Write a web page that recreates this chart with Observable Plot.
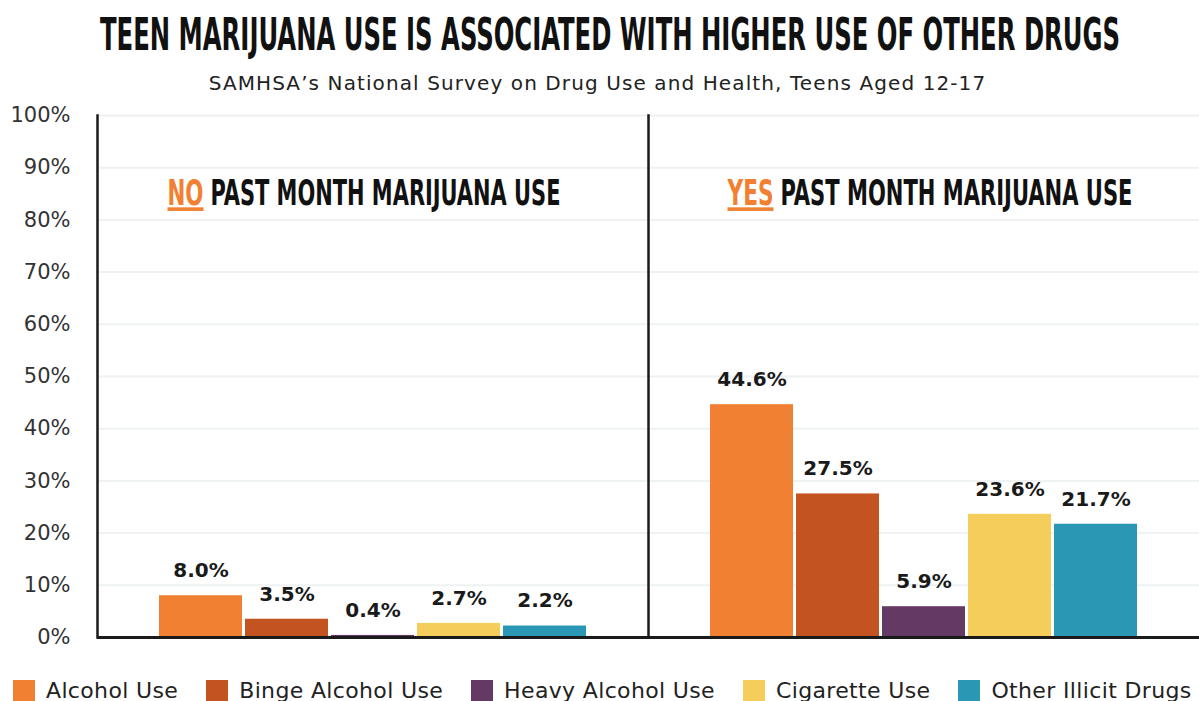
<!DOCTYPE html>
<html><head><meta charset="utf-8">
<script src="https://cdn.jsdelivr.net/npm/d3@7"></script>
<script src="https://cdn.jsdelivr.net/npm/@observablehq/plot@0.6"></script>
<style>
body{margin:0;background:#fff;font-family:"DejaVu Sans",sans-serif;width:1199px;overflow:hidden;}
#title{display:block;}
#sub{text-align:center;font-size:20px;letter-spacing:1.1px;color:#222;height:34px;line-height:34px;margin-left:-4px;}
#chart svg{display:block;}
#legend{margin-top:22px;padding-left:13px;width:1300px;}
#legend div{flex-wrap:nowrap !important;white-space:nowrap;}
#legend span{margin-right:28px !important;letter-spacing:0.35px;}
</style></head><body>
<svg id="title" width="1199" height="66"><text x="610" y="50" text-anchor="middle" font-family="Liberation Sans Narrow, DejaVu Sans Condensed" font-weight="bold" font-size="44" fill="#111" textLength="1020" lengthAdjust="spacingAndGlyphs">TEEN MARIJUANA USE IS ASSOCIATED WITH HIGHER USE OF OTHER DRUGS</text></svg>
<div id="sub">SAMHSA’s National Survey on Drug Use and Health, Teens Aged 12-17</div>
<div id="chart"></div>
<div id="legend"></div>
<script>
const categories = ["Alcohol Use","Binge Alcohol Use","Heavy Alcohol Use","Cigarette Use","Other Illicit Drugs"];
const groups = ["No","Yes"];
const groupWords = ["NO","YES"];
const headerRest = "PAST MONTH MARIJUANA USE";
const noValues = [8.0,3.5,0.4,2.7,2.2];
const yesValues = [44.6,27.5,5.9,23.6,21.7];
const yTicks = [0,10,20,30,40,50,60,70,80,90,100];
const colors = ["#F18032","#C45322","#643A64","#F5CD5A","#2A98B4"];

const data = [];
categories.forEach((c,i)=>data.push({group:"No",cat:c,value:noValues[i]}));
categories.forEach((c,i)=>data.push({group:"Yes",cat:c,value:yesValues[i]}));

const headerFont = "Liberation Sans Narrow, DejaVu Sans Condensed, sans-serif";
const chart = Plot.plot({
  width:1199, height:552,
  marginLeft:97, marginRight:0, marginTop:15, marginBottom:15,
  style:{fontFamily:"DejaVu Sans", fontSize:"21px", color:"#333", background:"transparent", overflow:"visible"},
  fx:{domain:groups, padding:0, axis:null},
  x:{domain:categories, paddingInner:0.04, paddingOuter:0.705, axis:null},
  y:{domain:[0,100], ticks:yTicks, tickFormat:d=>d+"%", tickSize:0, tickPadding:27, label:null},
  color:{domain:categories, range:colors},
  marks:[
    Plot.ruleY(yTicks.slice(1), {stroke:"#eef2f2", strokeWidth:2}),
    Plot.barY(data, {fx:"group", x:"cat", y:"value", fill:"cat"}),
    Plot.text(data, {fx:"group", x:"cat", y:"value", text:d=>d.value.toFixed(1)+"%", dy:-25, fontWeight:"bold", fontSize:20, fill:"#1a1a1a"}),
    Plot.frame({anchor:"left", stroke:"#1a1a1a", strokeWidth:2.5}),
    Plot.ruleY([0], {stroke:"#1a1a1a", strokeWidth:3}),
    Plot.text([{group:"No", t:groupWords[0]}], {fx:"group", y:()=>85, text:"t", frameAnchor:"left", dx:70, textAnchor:"start", fill:"#F18032", fontWeight:"bold", fontFamily:headerFont, fontSize:36}),
    Plot.text([{group:"No", t:headerRest}], {fx:"group", y:()=>85, text:"t", frameAnchor:"left", dx:113, textAnchor:"start", fill:"#111", fontWeight:"bold", fontFamily:headerFont, fontSize:36}),
    Plot.text([{group:"Yes", t:groupWords[1]}], {fx:"group", y:()=>85, text:"t", frameAnchor:"left", dx:79, textAnchor:"start", fill:"#F18032", fontWeight:"bold", fontFamily:headerFont, fontSize:36}),
    Plot.text([{group:"Yes", t:headerRest}], {fx:"group", y:()=>85, text:"t", frameAnchor:"left", dx:132, textAnchor:"start", fill:"#111", fontWeight:"bold", fontFamily:headerFont, fontSize:36})
  ]
});
document.getElementById("chart").append(chart);

// header text fitting
const lens = {"NO":36,"YES":46};
let restCount = 0;
d3.select(chart).selectAll("text").each(function(){
  const t = this.textContent;
  if (t === "NO" || t === "YES") {
    d3.select(this).attr("textLength", lens[t]).attr("lengthAdjust","spacingAndGlyphs").style("text-decoration","underline");
  } else if (t === headerRest) {
    d3.select(this).attr("textLength", restCount++ === 0 ? 350 : 352).attr("lengthAdjust","spacingAndGlyphs");
  }
});

const legend = Plot.legend({color:{domain:categories, range:colors}, swatchSize:22, style:{fontFamily:"DejaVu Sans", fontSize:"22px", color:"#222"}});
document.getElementById("legend").append(legend);
</script>
</body></html>
